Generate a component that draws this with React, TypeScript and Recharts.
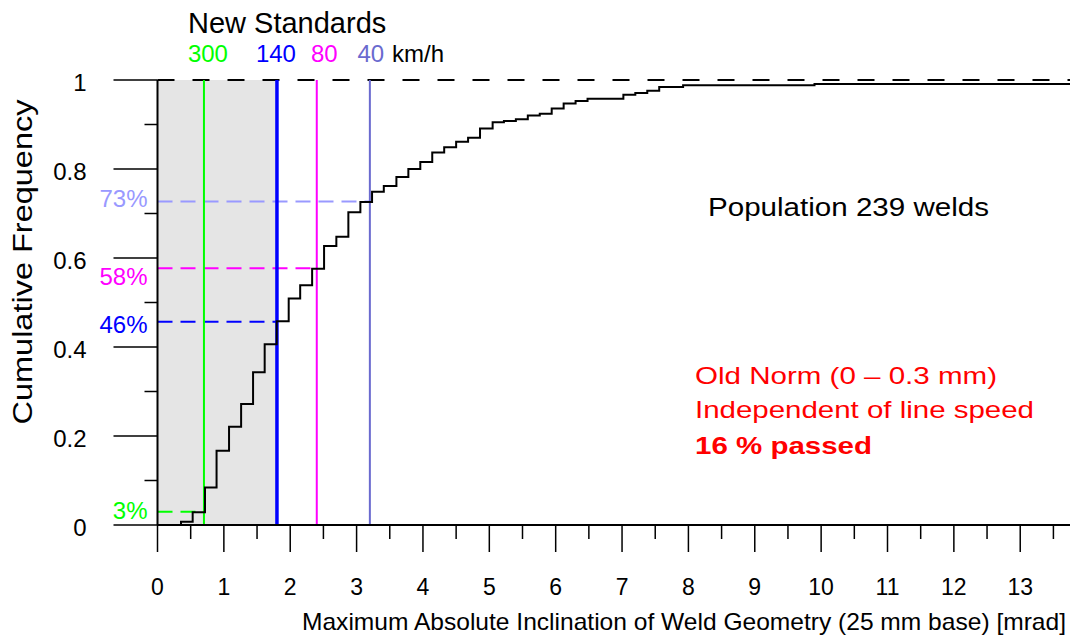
import React from 'react';
import {
  ComposedChart,
  Line,
  XAxis,
  YAxis,
  ReferenceLine,
  ReferenceArea,
} from 'recharts';

// ---- data ----
const stepX = [
  0.18, 0.354, 0.53, 0.716, 0.89, 1.078, 1.26, 1.44, 1.615, 1.796, 1.977, 2.15, 2.33, 2.51,
  2.695, 2.876, 3.057, 3.233, 3.41, 3.6, 3.78, 3.96, 4.14, 4.32, 4.5, 4.68, 4.86, 5.05, 5.22,
  5.4, 5.58, 5.76, 5.94, 6.12, 6.3, 6.48, 7.02, 7.2, 7.38, 7.56, 7.92, 9.9, 13.75,
];
const stepY = [
  0, 0.0074, 0.0285, 0.084, 0.167, 0.221, 0.272, 0.343, 0.406, 0.458, 0.509, 0.539, 0.576, 0.627,
  0.648, 0.703, 0.726, 0.749, 0.762, 0.782, 0.8, 0.816, 0.837, 0.849, 0.861, 0.87, 0.891, 0.905,
  0.908, 0.912, 0.92, 0.924, 0.936, 0.947, 0.953, 0.958, 0.967, 0.971, 0.976, 0.984, 0.988, 0.991,
  0.991,
];

const xTicks = [
  0, 0.5, 1, 1.5, 2, 2.5, 3, 3.5, 4, 4.5, 5, 5.5, 6, 6.5, 7, 7.5, 8, 8.5, 9, 9.5, 10, 10.5, 11,
  11.5, 12, 12.5, 13, 13.5,
];
const yTicks = [0, 0.1, 0.2, 0.3, 0.4, 0.5, 0.6, 0.7, 0.8, 0.9, 1];
const yMajorLabels = ['0', '0.2', '0.4', '0.6', '0.8', '1'];

const standardSpeeds = ['300', '140', '80', '40'];
const standardLimits = [0.7, 1.8, 2.4, 3.2];
const standardPassed = [0.03, 0.457, 0.577, 0.727];
const standardPctLabels = ['3%', '46%', '58%', '73%'];

const oldNormLimit = 1.8;
const xMax = 13.75;

const data = stepX.map((x, i) => ({ x, y: stepY[i] }));

// ---- styles ----
const FONT = "'Liberation Sans', Arial, Helvetica, sans-serif";
const speedColors = ['#00FF00', '#0000FF', '#FF00FF', '#6A6ACF'];
const speedWidths = [2, 3.5, 2, 2];
const pctColors = ['#00FF00', '#0000FF', '#FF00FF', '#9999FF'];
const pctDy = [7.5, 11.5, 16.5, 5.5];
const topDx = [4, -1, 7.5, 1];

const XTick = (props: any) => {
  const { x, y, payload } = props;
  const v = payload.value;
  const major = Math.abs(v - Math.round(v)) < 1e-6;
  return (
    <g>
      <line x1={x} x2={x} y1={y} y2={y + (major ? 27 : 14)} stroke="#000" strokeWidth={1.5} />
      {major && (
        <text x={x} y={y + 70} textAnchor="middle" fontSize={23} fontFamily={FONT} fill="#000">
          {String(v)}
        </text>
      )}
    </g>
  );
};

const YTick = (props: any) => {
  const { x, y, index } = props;
  const major = index % 2 === 0;
  return (
    <g>
      <line x1={x - (major ? 44 : 13)} x2={x} y1={y} y2={y} stroke="#000" strokeWidth={1.5} />
      {major && (
        <text x={x - 71} y={y + 11} textAnchor="end" fontSize={24} fontFamily={FONT} fill="#000">
          {yMajorLabels[index / 2]}
        </text>
      )}
    </g>
  );
};

const PctLabel = (props: any) => {
  const { viewBox, pctText, pctColor, pctOffset } = props;
  if (!viewBox) return null;
  return (
    <text
      x={viewBox.x - 10}
      y={viewBox.y + pctOffset}
      textAnchor="end"
      fontSize={24}
      fontFamily={FONT}
      fill={pctColor}
    >
      {pctText}
    </text>
  );
};

const TopLabel = (props: any) => {
  const { viewBox, topText, topColor, topOffset } = props;
  if (!viewBox) return null;
  return (
    <text
      x={viewBox.x + topOffset}
      y={viewBox.y - 18}
      textAnchor="middle"
      fontSize={24}
      fontFamily={FONT}
      fill={topColor}
    >
      {topText}
    </text>
  );
};

export default function App() {
  return (
    <div style={{ position: 'absolute', left: 0, top: 0, width: 1070, height: 639, background: '#fff' }}>
      <ComposedChart
        width={1070}
        height={639}
        data={data}
        margin={{ top: 80, right: 0, bottom: 0, left: 0 }}
      >
        <XAxis
          type="number"
          dataKey="x"
          domain={[0, xMax]}
          ticks={xTicks}
          interval={0}
          allowDataOverflow
          height={114}
          tickSize={0}
          tickMargin={0}
          tickLine={false}
          axisLine={{ stroke: '#000', strokeWidth: 2 }}
          tick={<XTick />}
        />
        <YAxis
          type="number"
          domain={[0, 1]}
          ticks={yTicks}
          interval={0}
          width={157.5}
          tickSize={0}
          tickMargin={0}
          tickLine={false}
          axisLine={{ stroke: '#000', strokeWidth: 2 }}
          tick={<YTick />}
        />
        <ReferenceArea
          x1={0}
          x2={oldNormLimit}
          y1={0}
          y2={1}
          fill="#E5E5E5"
          fillOpacity={1}
          stroke="none"
        />
        <ReferenceLine y={1} stroke="#000" strokeWidth={2} strokeDasharray="17 18" />
        {standardLimits.map((lim, i) => (
          <ReferenceLine
            key={'h' + i}
            segment={[
              { x: 0, y: standardPassed[i] },
              { x: lim, y: standardPassed[i] },
            ]}
            stroke={pctColors[i]}
            strokeWidth={2}
            strokeDasharray="15 8"
            label={
              <PctLabel pctText={standardPctLabels[i]} pctColor={pctColors[i]} pctOffset={pctDy[i]} />
            }
          />
        ))}
        {standardLimits.map((lim, i) => (
          <ReferenceLine
            key={'v' + i}
            segment={[
              { x: lim, y: 0 },
              { x: lim, y: 1 },
            ]}
            stroke={speedColors[i]}
            strokeWidth={speedWidths[i]}
            label={
              <TopLabel topText={standardSpeeds[i]} topColor={speedColors[i]} topOffset={topDx[i]} />
            }
          />
        ))}
        <Line
          type="stepAfter"
          dataKey="y"
          stroke="#000"
          strokeWidth={2}
          dot={false}
          activeDot={false}
          isAnimationActive={false}
        />
      </ComposedChart>
      <svg
        width={1070}
        height={639}
        style={{ position: 'absolute', left: 0, top: 0, pointerEvents: 'none' }}
      >
        <text x={188} y={33} fontSize={29} fontFamily={FONT} fill="#000">
          New Standards
        </text>
        <text x={392} y={62} fontSize={24} fontFamily={FONT} fill="#000">
          km/h
        </text>
        <text
          x={32}
          y={262}
          transform="rotate(-90, 32, 262)"
          textAnchor="middle"
          fontSize={27}
          fontFamily={FONT}
          fill="#000"
          textLength={325}
          lengthAdjust="spacingAndGlyphs"
        >
          Cumulative Frequency
        </text>
        <text
          x={302}
          y={630}
          fontSize={24}
          fontFamily={FONT}
          fill="#000"
          textLength={764}
          lengthAdjust="spacingAndGlyphs"
        >
          Maximum Absolute Inclination of Weld Geometry (25 mm base) [mrad]
        </text>
        <text
          x={708}
          y={216}
          fontSize={25}
          fontFamily={FONT}
          fill="#000"
          textLength={281}
          lengthAdjust="spacingAndGlyphs"
        >
          Population 239 welds
        </text>
        <text
          x={695}
          y={384}
          fontSize={24}
          fontFamily={FONT}
          fill="#FF0000"
          textLength={302}
          lengthAdjust="spacingAndGlyphs"
        >
          Old Norm (0 – 0.3 mm)
        </text>
        <text
          x={695}
          y={418}
          fontSize={24}
          fontFamily={FONT}
          fill="#FF0000"
          textLength={339}
          lengthAdjust="spacingAndGlyphs"
        >
          Independent of line speed
        </text>
        <text
          x={695}
          y={454}
          fontSize={24}
          fontWeight="bold"
          fontFamily={FONT}
          fill="#FF0000"
          textLength={177}
          lengthAdjust="spacingAndGlyphs"
        >
          16 % passed
        </text>
      </svg>
    </div>
  );
}
